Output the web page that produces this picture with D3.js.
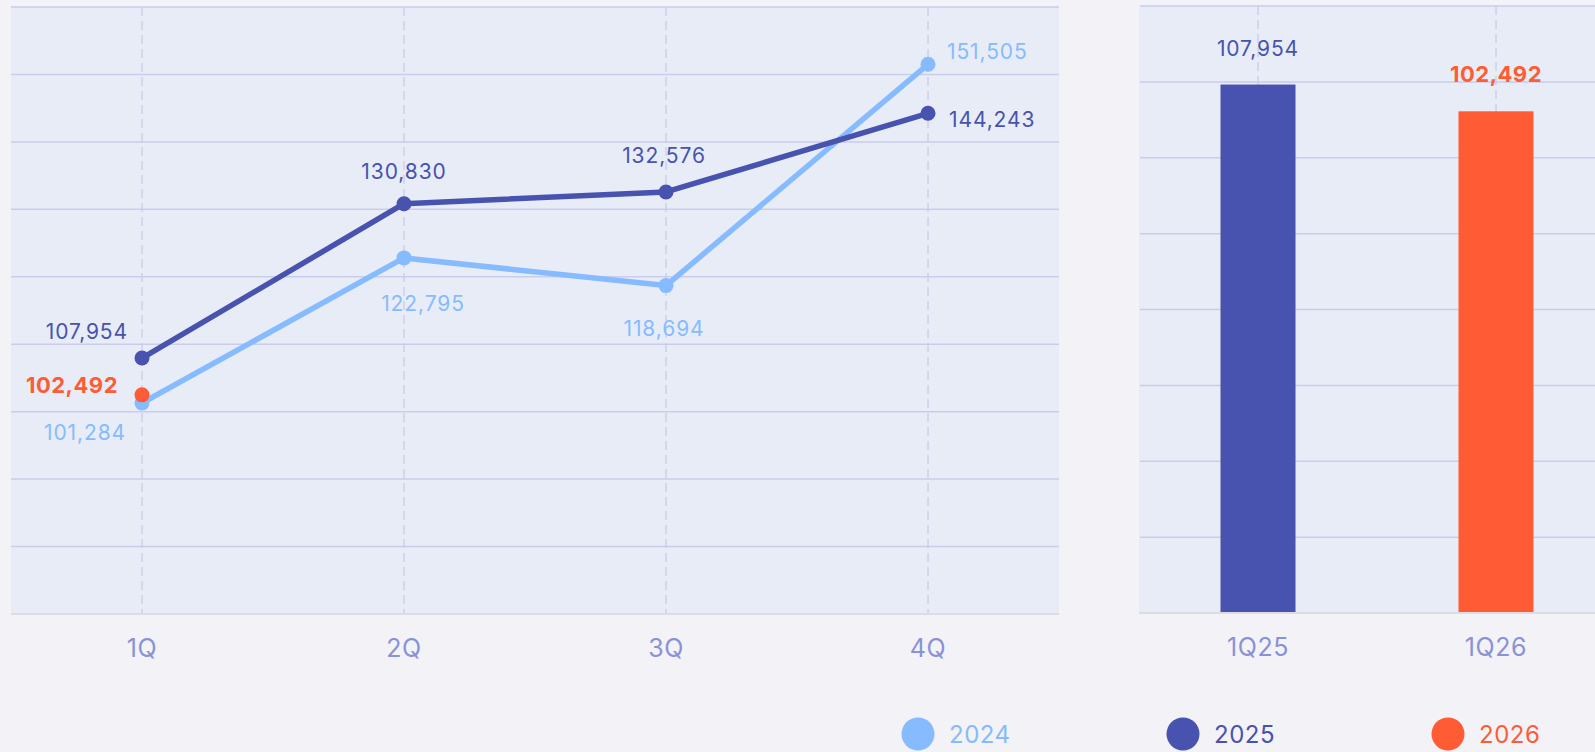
<!DOCTYPE html>
<html>
<head>
<meta charset="utf-8">
<title>Quarterly chart</title>
<style>
body { margin: 0; background: #f2f2f7; }
svg { display: block; font-family: Inter, "Noto Sans", sans-serif; }
</style>
</head>
<body>
<div id="chart"></div>
<script src="https://cdn.jsdelivr.net/npm/d3@7"></script>
<script>
// data
const quarters = ["1Q", "2Q", "3Q", "4Q"];
const values2024 = [101284, 122795, 118694, 151505];
const values2025 = [107954, 130830, 132576, 144243];
const values2026 = [102492];
const barCategories = ["1Q25", "1Q26"];
const barValues = [107954, 102492];
const legendYears = ["2024", "2025", "2026"];

const colors = { "2024": "#86bcff", "2025": "#4753ae", "2026": "#ff5c35" };
const gridColor = "#c9cdeb";
const tickColor = "#8a92d6";

// label placement per point: [dx, dy, anchor]
const labelPos2024 = [[-16, 37, "end"], [19, 53, "middle"], [-2, 50, "middle"], [19, -5, "start"]];
const labelPos2025 = [[-14, -19, "end"], [0, -25, "middle"], [-2, -29, "middle"], [21, 14, "start"]];
const labelPos2026 = [[-24, -2, "end"]];

const W = 1595, H = 752;
const svg = d3.select("#chart").append("svg").attr("width", W).attr("height", H);
svg.append("rect").attr("width", W).attr("height", H).attr("fill", "#f2f2f7");

const fmt = d3.format(",");

// ---------- left line chart ----------
const L = { left: 11, right: 1059, top: 7, bottom: 614 };
const x = d3.scaleBand().domain(quarters).range([L.left, L.right]);
const y = d3.scaleLinear().domain([70000, 160000]).range([L.bottom, L.top]);
const cx = d => x(d) + x.bandwidth() / 2;

const left = svg.append("g");
left.append("rect")
  .attr("x", L.left).attr("y", L.top)
  .attr("width", L.right - L.left).attr("height", L.bottom - L.top)
  .attr("fill", "#e8ecf6");

left.append("g").selectAll("line")
  .data(d3.range(70000, 160001, 10000).filter(v => v > 70000))
  .join("line")
  .attr("x1", L.left).attr("x2", L.right)
  .attr("y1", d => y(d)).attr("y2", d => y(d))
  .attr("stroke", gridColor).attr("stroke-width", 1.5);

left.append("g").selectAll("line")
  .data(quarters)
  .join("line")
  .attr("x1", cx).attr("x2", cx)
  .attr("y1", L.top).attr("y2", L.bottom)
  .attr("stroke", "#c5cae9").attr("stroke-width", 1.2)
  .attr("stroke-dasharray", "9,5");

left.append("line")
  .attr("x1", L.left).attr("x2", L.right)
  .attr("y1", L.bottom).attr("y2", L.bottom)
  .attr("stroke", "#dcdce2").attr("stroke-width", 2);

const xAxis = left.append("g")
  .attr("transform", `translate(0,${L.bottom})`)
  .call(d3.axisBottom(x).tickSize(0).tickPadding(25));
xAxis.select(".domain").remove();
xAxis.selectAll("text")
  .attr("fill", tickColor).attr("font-size", 25)
  .attr("letter-spacing", 0.6)
  .attr("font-family", "Inter, sans-serif");

const line = d3.line().x(d => cx(d.q)).y(d => y(d.v));

function drawSeries(vals, color, pos, bold) {
  const pts = vals.map((v, i) => ({ q: quarters[i], v: v, p: pos[i] }));
  if (pts.length > 1) {
    left.append("path").datum(pts)
      .attr("d", line)
      .attr("fill", "none")
      .attr("stroke", color).attr("stroke-width", 5.5)
      .attr("stroke-linejoin", "round");
  }
  left.append("g").selectAll("circle")
    .data(pts).join("circle")
    .attr("cx", d => cx(d.q)).attr("cy", d => y(d.v))
    .attr("r", 7.5).attr("fill", color);
  left.append("g").selectAll("text")
    .data(pts).join("text")
    .attr("x", d => cx(d.q) + d.p[0])
    .attr("y", d => y(d.v) + d.p[1])
    .attr("text-anchor", d => d.p[2])
    .attr("fill", color)
    .attr("font-size", bold ? 22 : 21)
    .attr("font-weight", bold ? 700 : 400)
    .attr("letter-spacing", bold ? 0.5 : 0.9)
    .text(d => fmt(d.v));
}

drawSeries(values2024, colors["2024"], labelPos2024, false);
drawSeries(values2025, colors["2025"], labelPos2025, false);
drawSeries(values2026, colors["2026"], labelPos2026, true);

// ---------- right bar chart ----------
const R = { left: 1139, right: 1615, top: 6, bottom: 613 };
const xb = d3.scaleBand().domain(barCategories).range([R.left, R.right]);
const yb = d3.scaleLinear().domain([0, 124000]).range([R.bottom, R.top]);
const bcx = d => xb(d) + xb.bandwidth() / 2;
const barColors = [colors["2025"], colors["2026"]];

const right = svg.append("g");
right.append("rect")
  .attr("x", R.left).attr("y", R.top)
  .attr("width", R.right - R.left).attr("height", R.bottom - R.top)
  .attr("fill", "#e8ecf6");

right.append("g").selectAll("line")
  .data(d3.range(15500, 124001, 15500))
  .join("line")
  .attr("x1", R.left + 1).attr("x2", R.right)
  .attr("y1", d => yb(d)).attr("y2", d => yb(d))
  .attr("stroke", gridColor).attr("stroke-width", 1.5);

right.append("g").selectAll("line")
  .data(barCategories)
  .join("line")
  .attr("x1", bcx).attr("x2", bcx)
  .attr("y1", R.top).attr("y2", R.bottom)
  .attr("stroke", "#c5cae9").attr("stroke-width", 1.2)
  .attr("stroke-dasharray", "9,5");

right.append("g").selectAll("rect")
  .data(barValues).join("rect")
  .attr("x", (d, i) => bcx(barCategories[i]) - 37.5)
  .attr("width", 75)
  .attr("y", d => yb(d))
  .attr("height", d => R.bottom - yb(d))
  .attr("fill", (d, i) => barColors[i]);

right.append("g").selectAll("text")
  .data(barValues).join("text")
  .attr("x", (d, i) => bcx(barCategories[i]))
  .attr("y", d => yb(d) - 29)
  .attr("text-anchor", "middle")
  .attr("fill", (d, i) => barColors[i])
  .attr("font-size", (d, i) => i === 1 ? 22 : 21)
  .attr("font-weight", (d, i) => i === 1 ? 700 : 400)
  .attr("letter-spacing", (d, i) => i === 1 ? 0.5 : 0.9)
  .text(d => fmt(d));

right.append("line")
  .attr("x1", R.left).attr("x2", R.right)
  .attr("y1", R.bottom).attr("y2", R.bottom)
  .attr("stroke", "#dcdce2").attr("stroke-width", 2);

const xbAxis = right.append("g")
  .attr("transform", `translate(0,${R.bottom})`)
  .call(d3.axisBottom(xb).tickSize(0).tickPadding(25));
xbAxis.select(".domain").remove();
xbAxis.selectAll("text")
  .attr("fill", tickColor).attr("font-size", 25)
  .attr("letter-spacing", 0.6)
  .attr("font-family", "Inter, sans-serif");

// ---------- legend ----------
const legendX = d3.scalePoint().domain(legendYears).range([918, 1448]);
const leg = svg.append("g").selectAll("g")
  .data(legendYears).join("g")
  .attr("transform", d => `translate(${legendX(d)},734)`);
leg.append("circle").attr("r", 16.5).attr("fill", d => colors[d]);
leg.append("text")
  .attr("x", 31).attr("y", 8.5)
  .attr("fill", d => colors[d])
  .attr("font-size", 24)
  .attr("letter-spacing", 0.5)
  .text(d => d);
</script>
</body>
</html>
